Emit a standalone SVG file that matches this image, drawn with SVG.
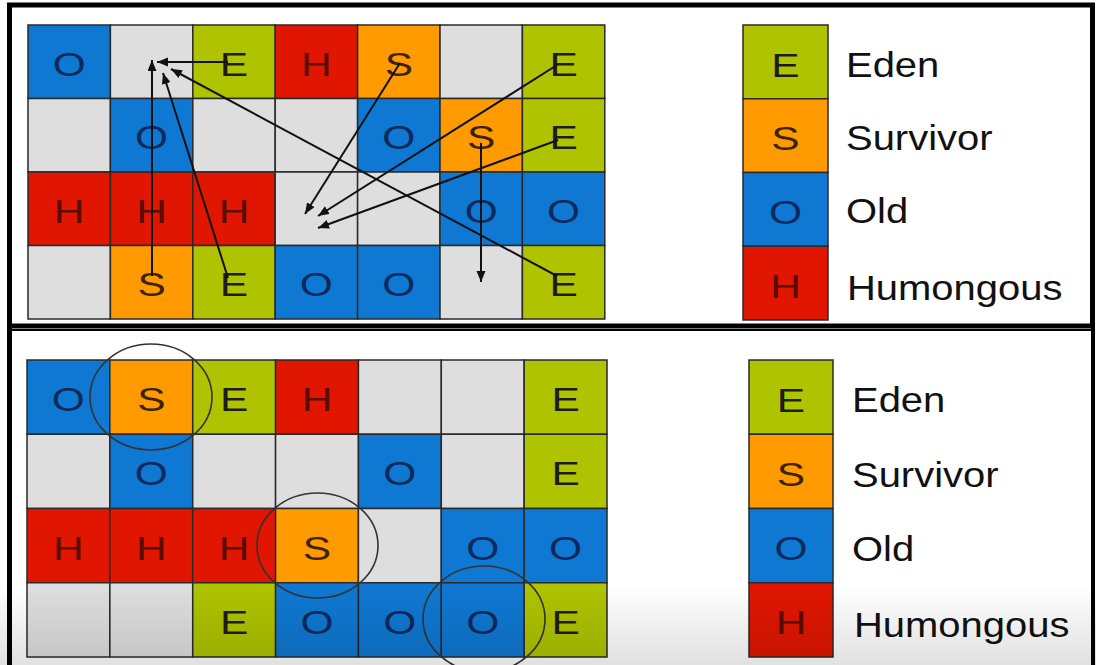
<svg xmlns="http://www.w3.org/2000/svg" width="1096" height="665" viewBox="0 0 1096 665">
<style>
.cell{stroke:#2a2a2a;stroke-width:1.5}
.o{fill:#0f78d2}.e{fill:#afc300}.s{fill:#ff9a00}.h{fill:#e01600}.g{fill:#dedede}
.c{font-family:"Liberation Sans",Arial,sans-serif;font-size:34px;text-anchor:middle}
.to{fill:#0c2a5c}.te{fill:#1c1c1c}.ts{fill:#3d2200}.th{fill:#5a0c00}
.lab{font-family:"Liberation Sans",Arial,sans-serif;font-size:36px;fill:#111}
.arr{stroke:#111;stroke-width:2;fill:none;marker-end:url(#ah)}
.ring{fill:none;stroke:#333;stroke-width:1.6}
.frame{fill:none;stroke:#000}
</style>
<defs>
<marker id="ah" markerUnits="userSpaceOnUse" markerWidth="12" markerHeight="10" refX="11" refY="4.5" orient="auto">
<path d="M0,0 L11,4.5 L0,9 Z" fill="#111"/>
</marker>
<linearGradient id="shade" x1="0" y1="0" x2="0" y2="1">
<stop offset="0" stop-color="#000" stop-opacity="0"/>
<stop offset="1" stop-color="#000" stop-opacity="0.12"/>
</linearGradient>
</defs>
<rect x="0" y="0" width="1096" height="665" fill="#fff"/>

<!-- Top grid -->
<g id="top-grid">
<g id="t-r0c0"><rect class="cell o" x="28" y="25" width="82.4" height="73.5"/><text class="c to" transform="matrix(1.25 0 0 1 69.2 75.75)">O</text></g>
<g id="t-r0c1"><rect class="cell g" x="110.4" y="25" width="82.4" height="73.5"/></g>
<g id="t-r0c2"><rect class="cell e" x="192.8" y="25" width="82.4" height="73.5"/><text class="c te" transform="matrix(1.25 0 0 1 234 75.75)">E</text></g>
<g id="t-r0c3"><rect class="cell h" x="275.2" y="25" width="82.4" height="73.5"/><text class="c th" transform="matrix(1.25 0 0 1 316.4 75.75)">H</text></g>
<g id="t-r0c4"><rect class="cell s" x="357.6" y="25" width="82.4" height="73.5"/><text class="c ts" transform="matrix(1.25 0 0 1 398.8 75.75)">S</text></g>
<g id="t-r0c5"><rect class="cell g" x="440" y="25" width="82.4" height="73.5"/></g>
<g id="t-r0c6"><rect class="cell e" x="522.4" y="25" width="82.4" height="73.5"/><text class="c te" transform="matrix(1.25 0 0 1 563.6 75.75)">E</text></g>

<g id="t-r1c0"><rect class="cell g" x="28" y="98.5" width="82.4" height="73.5"/></g>
<g id="t-r1c1"><rect class="cell o" x="110.4" y="98.5" width="82.4" height="73.5"/><text class="c to" transform="matrix(1.25 0 0 1 151.6 149.25)">O</text></g>
<g id="t-r1c2"><rect class="cell g" x="192.8" y="98.5" width="82.4" height="73.5"/></g>
<g id="t-r1c3"><rect class="cell g" x="275.2" y="98.5" width="82.4" height="73.5"/></g>
<g id="t-r1c4"><rect class="cell o" x="357.6" y="98.5" width="82.4" height="73.5"/><text class="c to" transform="matrix(1.25 0 0 1 398.8 149.25)">O</text></g>
<g id="t-r1c5"><rect class="cell s" x="440" y="98.5" width="82.4" height="73.5"/><text class="c ts" transform="matrix(1.25 0 0 1 481.2 149.25)">S</text></g>
<g id="t-r1c6"><rect class="cell e" x="522.4" y="98.5" width="82.4" height="73.5"/><text class="c te" transform="matrix(1.25 0 0 1 563.6 149.25)">E</text></g>

<g id="t-r2c0"><rect class="cell h" x="28" y="172" width="82.4" height="73.5"/><text class="c th" transform="matrix(1.25 0 0 1 69.2 222.75)">H</text></g>
<g id="t-r2c1"><rect class="cell h" x="110.4" y="172" width="82.4" height="73.5"/><text class="c th" transform="matrix(1.25 0 0 1 151.6 222.75)">H</text></g>
<g id="t-r2c2"><rect class="cell h" x="192.8" y="172" width="82.4" height="73.5"/><text class="c th" transform="matrix(1.25 0 0 1 234 222.75)">H</text></g>
<g id="t-r2c3"><rect class="cell g" x="275.2" y="172" width="82.4" height="73.5"/></g>
<g id="t-r2c4"><rect class="cell g" x="357.6" y="172" width="82.4" height="73.5"/></g>
<g id="t-r2c5"><rect class="cell o" x="440" y="172" width="82.4" height="73.5"/><text class="c to" transform="matrix(1.25 0 0 1 481.2 222.75)">O</text></g>
<g id="t-r2c6"><rect class="cell o" x="522.4" y="172" width="82.4" height="73.5"/><text class="c to" transform="matrix(1.25 0 0 1 563.6 222.75)">O</text></g>

<g id="t-r3c0"><rect class="cell g" x="28" y="245.5" width="82.4" height="73.5"/></g>
<g id="t-r3c1"><rect class="cell s" x="110.4" y="245.5" width="82.4" height="73.5"/><text class="c ts" transform="matrix(1.25 0 0 1 151.6 296.25)">S</text></g>
<g id="t-r3c2"><rect class="cell e" x="192.8" y="245.5" width="82.4" height="73.5"/><text class="c te" transform="matrix(1.25 0 0 1 234 296.25)">E</text></g>
<g id="t-r3c3"><rect class="cell o" x="275.2" y="245.5" width="82.4" height="73.5"/><text class="c to" transform="matrix(1.25 0 0 1 316.4 296.25)">O</text></g>
<g id="t-r3c4"><rect class="cell o" x="357.6" y="245.5" width="82.4" height="73.5"/><text class="c to" transform="matrix(1.25 0 0 1 398.8 296.25)">O</text></g>
<g id="t-r3c5"><rect class="cell g" x="440" y="245.5" width="82.4" height="73.5"/></g>
<g id="t-r3c6"><rect class="cell e" x="522.4" y="245.5" width="82.4" height="73.5"/><text class="c te" transform="matrix(1.25 0 0 1 563.6 296.25)">E</text></g>
</g>

<!-- Top legend -->
<g id="top-legend">
<g id="tl-eden"><rect class="cell e" x="743" y="25" width="85" height="73.75"/><text class="c te" transform="matrix(1.25 0 0 1 785.5 76.5)">E</text><text class="lab" transform="matrix(1.11 0 0 1 846 77)">Eden</text></g>
<g id="tl-surv"><rect class="cell s" x="743" y="98.75" width="85" height="73.75"/><text class="c ts" transform="matrix(1.25 0 0 1 785.5 150)">S</text><text class="lab" transform="matrix(1.11 0 0 1 846 150)">Survivor</text></g>
<g id="tl-old"><rect class="cell o" x="743" y="172.5" width="85" height="73.75"/><text class="c to" transform="matrix(1.25 0 0 1 785.5 223.5)">O</text><text class="lab" transform="matrix(1.11 0 0 1 846 223)">Old</text></g>
<g id="tl-hum"><rect class="cell h" x="743" y="246.25" width="85" height="73.75"/><text class="c th" transform="matrix(1.25 0 0 1 785.5 297.5)">H</text><text class="lab" transform="matrix(1.11 0 0 1 847 300)">Humongous</text></g>
</g>

<!-- Connectors (top panel) -->
<g id="connectors">
<line class="arr" x1="228" y1="62" x2="157" y2="62"/>
<line class="arr" x1="152" y1="276" x2="152" y2="60"/>
<line class="arr" x1="228" y1="278" x2="163" y2="73"/>
<line class="arr" x1="557" y1="276" x2="171" y2="69"/>
<line class="arr" x1="400" y1="63" x2="305" y2="214"/>
<line class="arr" x1="557" y1="65" x2="318" y2="216"/>
<line class="arr" x1="558" y1="140" x2="318" y2="228"/>
<line class="arr" x1="481" y1="143" x2="481" y2="282"/>
</g>

<!-- Bottom grid -->
<g id="bottom-grid">
<g id="b-r0c0"><rect class="cell o" x="27" y="360" width="82.86" height="74.25"/><text class="c to" transform="matrix(1.25 0 0 1 68.4 411.1)">O</text></g>
<g id="b-r0c1"><rect class="cell s" x="109.86" y="360" width="82.86" height="74.25"/><text class="c ts" transform="matrix(1.25 0 0 1 151.3 411.1)">S</text></g>
<g id="b-r0c2"><rect class="cell e" x="192.72" y="360" width="82.86" height="74.25"/><text class="c te" transform="matrix(1.25 0 0 1 234.2 411.1)">E</text></g>
<g id="b-r0c3"><rect class="cell h" x="275.58" y="360" width="82.86" height="74.25"/><text class="c th" transform="matrix(1.25 0 0 1 317 411.1)">H</text></g>
<g id="b-r0c4"><rect class="cell g" x="358.44" y="360" width="82.86" height="74.25"/></g>
<g id="b-r0c5"><rect class="cell g" x="441.3" y="360" width="82.86" height="74.25"/></g>
<g id="b-r0c6"><rect class="cell e" x="524.16" y="360" width="82.86" height="74.25"/><text class="c te" transform="matrix(1.25 0 0 1 565.6 411.1)">E</text></g>

<g id="b-r1c0"><rect class="cell g" x="27" y="434.25" width="82.86" height="74.25"/></g>
<g id="b-r1c1"><rect class="cell o" x="109.86" y="434.25" width="82.86" height="74.25"/><text class="c to" transform="matrix(1.25 0 0 1 151.3 485.4)">O</text></g>
<g id="b-r1c2"><rect class="cell g" x="192.72" y="434.25" width="82.86" height="74.25"/></g>
<g id="b-r1c3"><rect class="cell g" x="275.58" y="434.25" width="82.86" height="74.25"/></g>
<g id="b-r1c4"><rect class="cell o" x="358.44" y="434.25" width="82.86" height="74.25"/><text class="c to" transform="matrix(1.25 0 0 1 399.9 485.4)">O</text></g>
<g id="b-r1c5"><rect class="cell g" x="441.3" y="434.25" width="82.86" height="74.25"/></g>
<g id="b-r1c6"><rect class="cell e" x="524.16" y="434.25" width="82.86" height="74.25"/><text class="c te" transform="matrix(1.25 0 0 1 565.6 485.4)">E</text></g>

<g id="b-r2c0"><rect class="cell h" x="27" y="508.5" width="82.86" height="74.25"/><text class="c th" transform="matrix(1.25 0 0 1 68.4 559.6)">H</text></g>
<g id="b-r2c1"><rect class="cell h" x="109.86" y="508.5" width="82.86" height="74.25"/><text class="c th" transform="matrix(1.25 0 0 1 151.3 559.6)">H</text></g>
<g id="b-r2c2"><rect class="cell h" x="192.72" y="508.5" width="82.86" height="74.25"/><text class="c th" transform="matrix(1.25 0 0 1 234.2 559.6)">H</text></g>
<g id="b-r2c3"><rect class="cell s" x="275.58" y="508.5" width="82.86" height="74.25"/><text class="c ts" transform="matrix(1.25 0 0 1 317 559.6)">S</text></g>
<g id="b-r2c4"><rect class="cell g" x="358.44" y="508.5" width="82.86" height="74.25"/></g>
<g id="b-r2c5"><rect class="cell o" x="441.3" y="508.5" width="82.86" height="74.25"/><text class="c to" transform="matrix(1.25 0 0 1 482.7 559.6)">O</text></g>
<g id="b-r2c6"><rect class="cell o" x="524.16" y="508.5" width="82.86" height="74.25"/><text class="c to" transform="matrix(1.25 0 0 1 565.6 559.6)">O</text></g>

<g id="b-r3c0"><rect class="cell g" x="27" y="582.75" width="82.86" height="74.25"/></g>
<g id="b-r3c1"><rect class="cell g" x="109.86" y="582.75" width="82.86" height="74.25"/></g>
<g id="b-r3c2"><rect class="cell e" x="192.72" y="582.75" width="82.86" height="74.25"/><text class="c te" transform="matrix(1.25 0 0 1 234.2 633.9)">E</text></g>
<g id="b-r3c3"><rect class="cell o" x="275.58" y="582.75" width="82.86" height="74.25"/><text class="c to" transform="matrix(1.25 0 0 1 317 633.9)">O</text></g>
<g id="b-r3c4"><rect class="cell o" x="358.44" y="582.75" width="82.86" height="74.25"/><text class="c to" transform="matrix(1.25 0 0 1 399.9 633.9)">O</text></g>
<g id="b-r3c5"><rect class="cell o" x="441.3" y="582.75" width="82.86" height="74.25"/><text class="c to" transform="matrix(1.25 0 0 1 482.7 633.9)">O</text></g>
<g id="b-r3c6"><rect class="cell e" x="524.16" y="582.75" width="82.86" height="74.25"/><text class="c te" transform="matrix(1.25 0 0 1 565.6 633.9)">E</text></g>
</g>

<!-- Highlight rings -->
<g id="rings">
<ellipse class="ring" cx="151" cy="397" rx="61" ry="53"/>
<ellipse class="ring" cx="317.5" cy="545.5" rx="60.5" ry="52.5"/>
<ellipse class="ring" cx="484" cy="619" rx="61" ry="53"/>
</g>

<!-- Bottom legend -->
<g id="bottom-legend">
<g id="bl-eden"><rect class="cell e" x="749" y="360" width="84" height="74.25"/><text class="c te" transform="matrix(1.25 0 0 1 791 411.5)">E</text><text class="lab" transform="matrix(1.11 0 0 1 852 412)">Eden</text></g>
<g id="bl-surv"><rect class="cell s" x="749" y="434.25" width="84" height="74.25"/><text class="c ts" transform="matrix(1.25 0 0 1 791 486)">S</text><text class="lab" transform="matrix(1.11 0 0 1 852 487)">Survivor</text></g>
<g id="bl-old"><rect class="cell o" x="749" y="508.5" width="84" height="74.25"/><text class="c to" transform="matrix(1.25 0 0 1 791 560)">O</text><text class="lab" transform="matrix(1.11 0 0 1 852 561)">Old</text></g>
<g id="bl-hum"><rect class="cell h" x="749" y="582.75" width="84" height="74.25"/><text class="c th" transform="matrix(1.25 0 0 1 791 634)">H</text><text class="lab" transform="matrix(1.11 0 0 1 854 637)">Humongous</text></g>
</g>

<!-- Panel frames -->
<g id="frames">
<rect class="frame" x="9.5" y="5" width="1083" height="321" stroke-width="5"/>
<line class="frame" x1="9.5" y1="326" x2="9.5" y2="665" stroke-width="5"/>
<line class="frame" x1="1093" y1="326" x2="1093" y2="665" stroke-width="4"/>
<line class="frame" x1="7" y1="330" x2="1095" y2="330" stroke-width="2"/>
</g>

<rect x="0" y="585" width="1096" height="80" fill="url(#shade)"/>
</svg>
